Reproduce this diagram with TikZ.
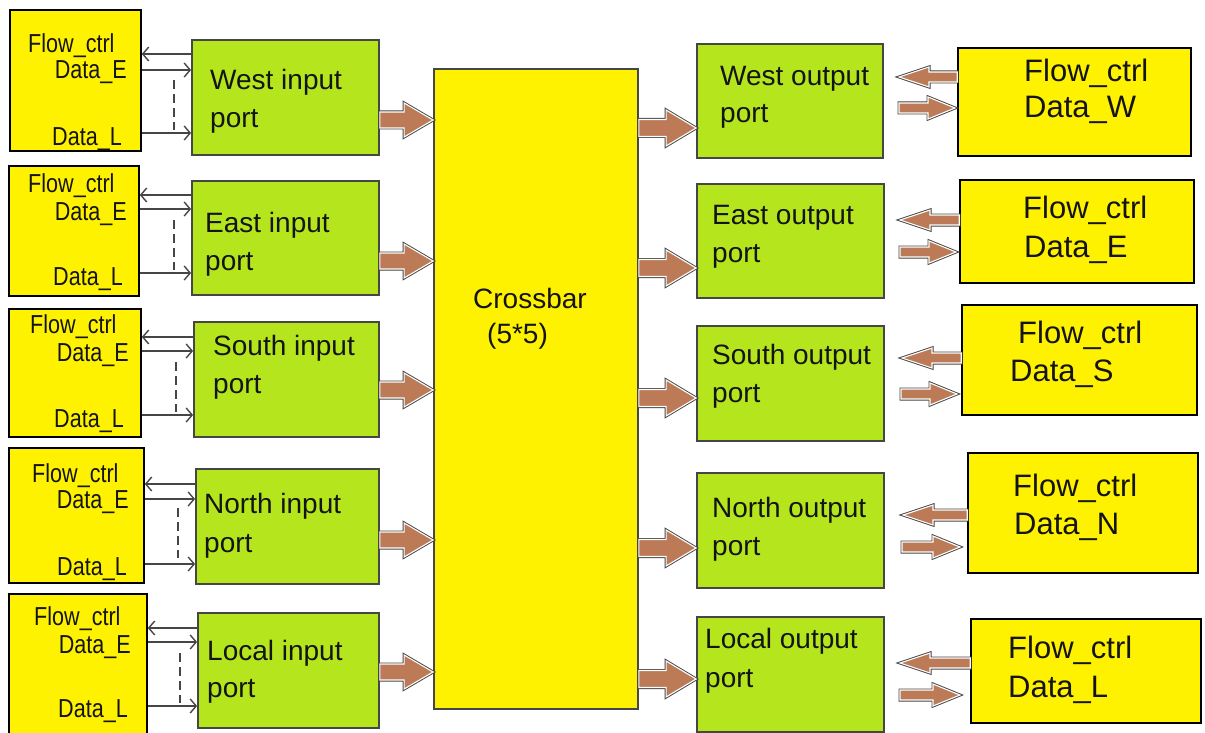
\documentclass[tikz,border=0pt]{standalone}
\usepackage{fontspec}
\setmainfont{Liberation Sans}
\newfontfamily\condfont[FakeStretch=0.83]{Liberation Sans}
\usetikzlibrary{arrows.meta,fit,calc}
\definecolor{myyellow}{RGB}{255,242,0}
\definecolor{mygreen}{RGB}{181,230,29}
\definecolor{mybrown}{RGB}{188,122,86}
\definecolor{mygrey}{RGB}{70,70,70}
\definecolor{txt}{RGB}{20,20,20}
\tikzset{
  ybox/.style={draw=black, line width=1.6pt, fill=myyellow, inner sep=0pt},
  gbox/.style={draw=mygrey, line width=1.8pt, fill=mygreen, inner sep=0pt},
  ltxt/.style={inner sep=0pt, font=\condfont\fontsize{26}{30}\selectfont, text=txt},
  gtxt/.style={inner sep=0pt, font=\fontsize{28}{32}\selectfont, text=txt},
  rtxt/.style={inner sep=0pt, font=\fontsize{31}{36}\selectfont, text=txt},
  sig/.style={draw=mygrey, line width=1.4pt, -{Straight Barb[length=6pt,width=14pt,line width=1.4pt]}},
  dsh/.style={draw=mygrey, line width=1.6pt, dash pattern=on 9pt off 5pt},
  barrow/.style={preaction={draw=mygrey, line width=3pt, line join=miter}, fill=mybrown, draw=white, line width=1.1pt, line join=miter},
}
% #1 start, #2 end, #3 shaft half, #4 head half, #5 head length (signed)
\newcommand\barr[5]{%
  \path[barrow] let \p1=#1, \p2=#2 in
    (\x1,{\y1+#3}) -- ({\x2-(#5)},{\y1+#3}) -- ({\x2-(#5)},{\y1+#4}) -- (\x2,\y1)
    -- ({\x2-(#5)},{\y1-#4}) -- ({\x2-(#5)},{\y1-#3}) -- (\x1,{\y1-#3}) -- cycle;}
\begin{document}
\begin{tikzpicture}[x=1pt,y=-1pt]
\useasboundingbox (0,0) rectangle (1205,733);
\fill[white] (0,0) rectangle (1205,733);

% left yellow boxes
\node[ybox, fit={(10,10)(141,151)}] (L1) {};
\node[ybox, fit={(9,166)(139,296)}] (L2) {};
\node[ybox, fit={(9,309)(141,437)}] (L3) {};
\node[ybox, fit={(9,448)(144,583)}] (L4) {};
\node[ybox, fit={(9,594)(147,742)}] (L5) {};

% input ports
\node[gbox, fit={(192,40)(379,155)}] (G1) {};
\node[gbox, fit={(192,181)(379,295)}] (G2) {};
\node[gbox, fit={(194,322)(379,437)}] (G3) {};
\node[gbox, fit={(196,469)(379,584)}] (G4) {};
\node[gbox, fit={(198,613)(379,728)}] (G5) {};

% crossbar
\node[gbox, fill=myyellow, fit={(434,69)(638,709)}] (X) {};

% output ports
\node[gbox, fit={(697,44)(883,158)}] (O1) {};
\node[gbox, fit={(697,184)(884,298)}] (O2) {};
\node[gbox, fit={(697,326)(884,441)}] (O3) {};
\node[gbox, fit={(697,473)(884,588)}] (O4) {};
\node[gbox, fit={(697,617)(884,732)}] (O5) {};

% right yellow boxes
\node[ybox, fit={(958,48)(1191,156)}] (R1) {};
\node[ybox, fit={(960,180)(1194,283)}] (R2) {};
\node[ybox, fit={(962,305)(1197,415)}] (R3) {};
\node[ybox, fit={(968,453)(1198,573)}] (R4) {};
\node[ybox, fit={(971,619)(1201,723)}] (R5) {};

% left texts
\node[ltxt, anchor=base west] (L1f) at (28,53) {Flow\_ctrl};
\node[ltxt, anchor=base east] (L1e) at (127,79) {Data\_E};
\node[ltxt, anchor=base east] (L1l) at (122,146) {Data\_L};
\node[ltxt, anchor=base west] (L2f) at (28,192) {Flow\_ctrl};
\node[ltxt, anchor=base east] (L2e) at (127,220) {Data\_E};
\node[ltxt, anchor=base east] (L2l) at (123,285) {Data\_L};
\node[ltxt, anchor=base west] (L3f) at (30,333) {Flow\_ctrl};
\node[ltxt, anchor=base east] (L3e) at (129,361) {Data\_E};
\node[ltxt, anchor=base east] (L3l) at (124,427) {Data\_L};
\node[ltxt, anchor=base west] (L4f) at (32,482) {Flow\_ctrl};
\node[ltxt, anchor=base east] (L4e) at (129,508) {Data\_E};
\node[ltxt, anchor=base east] (L4l) at (127,575) {Data\_L};
\node[ltxt, anchor=base west] (L5f) at (34,625) {Flow\_ctrl};
\node[ltxt, anchor=base east] (L5e) at (131,653) {Data\_E};
\node[ltxt, anchor=base east] (L5l) at (128,717) {Data\_L};

% input port texts
\node[gtxt, anchor=base west] (G1a) at (210,90) {West input};
\node[gtxt, anchor=base west] (G1b) at (210,128) {port};
\node[gtxt, anchor=base west] (G2a) at (205,232) {East input};
\node[gtxt, anchor=base west] (G2b) at (205,270) {port};
\node[gtxt, anchor=base west] (G3a) at (213,355) {South input};
\node[gtxt, anchor=base west] (G3b) at (213,393) {port};
\node[gtxt, anchor=base west] (G4a) at (204,513) {North input};
\node[gtxt, anchor=base west] (G4b) at (204,552) {port};
\node[gtxt, anchor=base west] (G5a) at (207,660) {Local input};
\node[gtxt, anchor=base west] (G5b) at (207,697) {port};

% crossbar text
\node[gtxt, anchor=base west] (Xa) at (473,308) {Crossbar};
\node[gtxt, anchor=base west] (Xb) at (487,343) {(5*5)};

% output port texts
\node[gtxt, anchor=base west] (O1a) at (720,86) {West output};
\node[gtxt, anchor=base west] (O1b) at (720,123) {port};
\node[gtxt, anchor=base west] (O2a) at (712,224) {East output};
\node[gtxt, anchor=base west] (O2b) at (712,262) {port};
\node[gtxt, anchor=base west] (O3a) at (712,364) {South output};
\node[gtxt, anchor=base west] (O3b) at (712,402) {port};
\node[gtxt, anchor=base west] (O4a) at (712,517) {North output};
\node[gtxt, anchor=base west] (O4b) at (712,555) {port};
\node[gtxt, anchor=base west] (O5a) at (705,648) {Local output};
\node[gtxt, anchor=base west] (O5b) at (705,687) {port};

% right texts
\node[rtxt, anchor=base west] (R1a) at (1024,82) {Flow\_ctrl};
\node[rtxt, anchor=base west] (R1b) at (1024,118) {Data\_W};
\node[rtxt, anchor=base west] (R2a) at (1023,218) {Flow\_ctrl};
\node[rtxt, anchor=base west] (R2b) at (1024,257) {Data\_E};
\node[rtxt, anchor=base west] (R3a) at (1018,343) {Flow\_ctrl};
\node[rtxt, anchor=base west] (R3b) at (1010,381) {Data\_S};
\node[rtxt, anchor=base west] (R4a) at (1013,496) {Flow\_ctrl};
\node[rtxt, anchor=base west] (R4b) at (1014,534) {Data\_N};
\node[rtxt, anchor=base west] (R5a) at (1008,658) {Flow\_ctrl};
\node[rtxt, anchor=base west] (R5b) at (1008,697) {Data\_L};

% left signal arrows
\draw[sig] (G1.west |- 0,54) -- (L1.east |- 0,54);
\draw[sig] (L1.east |- 0,70) -- (G1.west |- 0,70);
\draw[sig] (L1.east |- 0,133) -- (G1.west |- 0,133);
\draw[dsh] (174,80) -- (174,130);
\draw[sig] (G2.west |- 0,195) -- (L2.east |- 0,195);
\draw[sig] (L2.east |- 0,209) -- (G2.west |- 0,209);
\draw[sig] (L2.east |- 0,273) -- (G2.west |- 0,273);
\draw[dsh] (174,220) -- (174,270);
\draw[sig] (G3.west |- 0,337) -- (L3.east |- 0,337);
\draw[sig] (L3.east |- 0,351) -- (G3.west |- 0,351);
\draw[sig] (L3.east |- 0,415) -- (G3.west |- 0,415);
\draw[dsh] (176,362) -- (176,412);
\draw[sig] (G4.west |- 0,484) -- (L4.east |- 0,484);
\draw[sig] (L4.east |- 0,499) -- (G4.west |- 0,499);
\draw[sig] (L4.east |- 0,564) -- (G4.west |- 0,564);
\draw[dsh] (178,508) -- (178,558);
\draw[sig] (G5.west |- 0,628) -- (L5.east |- 0,628);
\draw[sig] (L5.east |- 0,642) -- (G5.west |- 0,642);
\draw[sig] (L5.east |- 0,706) -- (G5.west |- 0,706);
\draw[dsh] (180,653) -- (180,703);

% input block arrows
\barr{(G1.east |- 0,120)}{(X.west |- 0,120)}{8pt}{17pt}{29pt}
\barr{(G2.east |- 0,261)}{(X.west |- 0,261)}{8pt}{17pt}{29pt}
\barr{(G3.east |- 0,390)}{(X.west |- 0,390)}{8pt}{17pt}{29pt}
\barr{(G4.east |- 0,540)}{(X.west |- 0,540)}{8pt}{17pt}{29pt}
\barr{(G5.east |- 0,672)}{(X.west |- 0,672)}{8pt}{17pt}{29pt}

% output block arrows
\barr{(X.east |- 0,128)}{(O1.west |- 0,128)}{8.5pt}{18pt}{30pt}
\barr{(X.east |- 0,268)}{(O2.west |- 0,268)}{8.5pt}{18pt}{30pt}
\barr{(X.east |- 0,398)}{(O3.west |- 0,398)}{8.5pt}{18pt}{30pt}
\barr{(X.east |- 0,548)}{(O4.west |- 0,548)}{8.5pt}{18pt}{30pt}
\barr{(X.east |- 0,679)}{(O5.west |- 0,679)}{8.5pt}{18pt}{30pt}

% right side arrow ends
\coordinate (P1u) at (899,77);  \coordinate (P1d) at (899,108);
\coordinate (P2u) at (900,220); \coordinate (P2d) at (900,252);
\coordinate (P3u) at (902,358); \coordinate (P3d) at (901,394);
\coordinate (P4u) at (903,515); \coordinate (P4d) at (902,547);
\coordinate (P5u) at (900,663); \coordinate (P5d) at (900,695);
\coordinate (Q1d) at (955,108);
\coordinate (Q2d) at (956,252);
\coordinate (Q3d) at (957,394);
\coordinate (Q4d) at (960,547);
\coordinate (Q5d) at (960,695);

\barr{(R1.west |- P1u)}{(P1u)}{5pt}{10pt}{-30pt}
\barr{(P1d)}{(Q1d)}{5pt}{11pt}{27pt}
\barr{(R2.west |- P2u)}{(P2u)}{5pt}{10pt}{-30pt}
\barr{(P2d)}{(Q2d)}{5pt}{11pt}{27pt}
\barr{(R3.west |- P3u)}{(P3u)}{5pt}{10pt}{-30pt}
\barr{(P3d)}{(Q3d)}{5pt}{11pt}{27pt}
\barr{(R4.west |- P4u)}{(P4u)}{5pt}{10pt}{-30pt}
\barr{(P4d)}{(Q4d)}{5pt}{11pt}{27pt}
\barr{(R5.west |- P5u)}{(P5u)}{5pt}{10pt}{-30pt}
\barr{(P5d)}{(Q5d)}{5pt}{11pt}{27pt}
\end{tikzpicture}
\end{document}
